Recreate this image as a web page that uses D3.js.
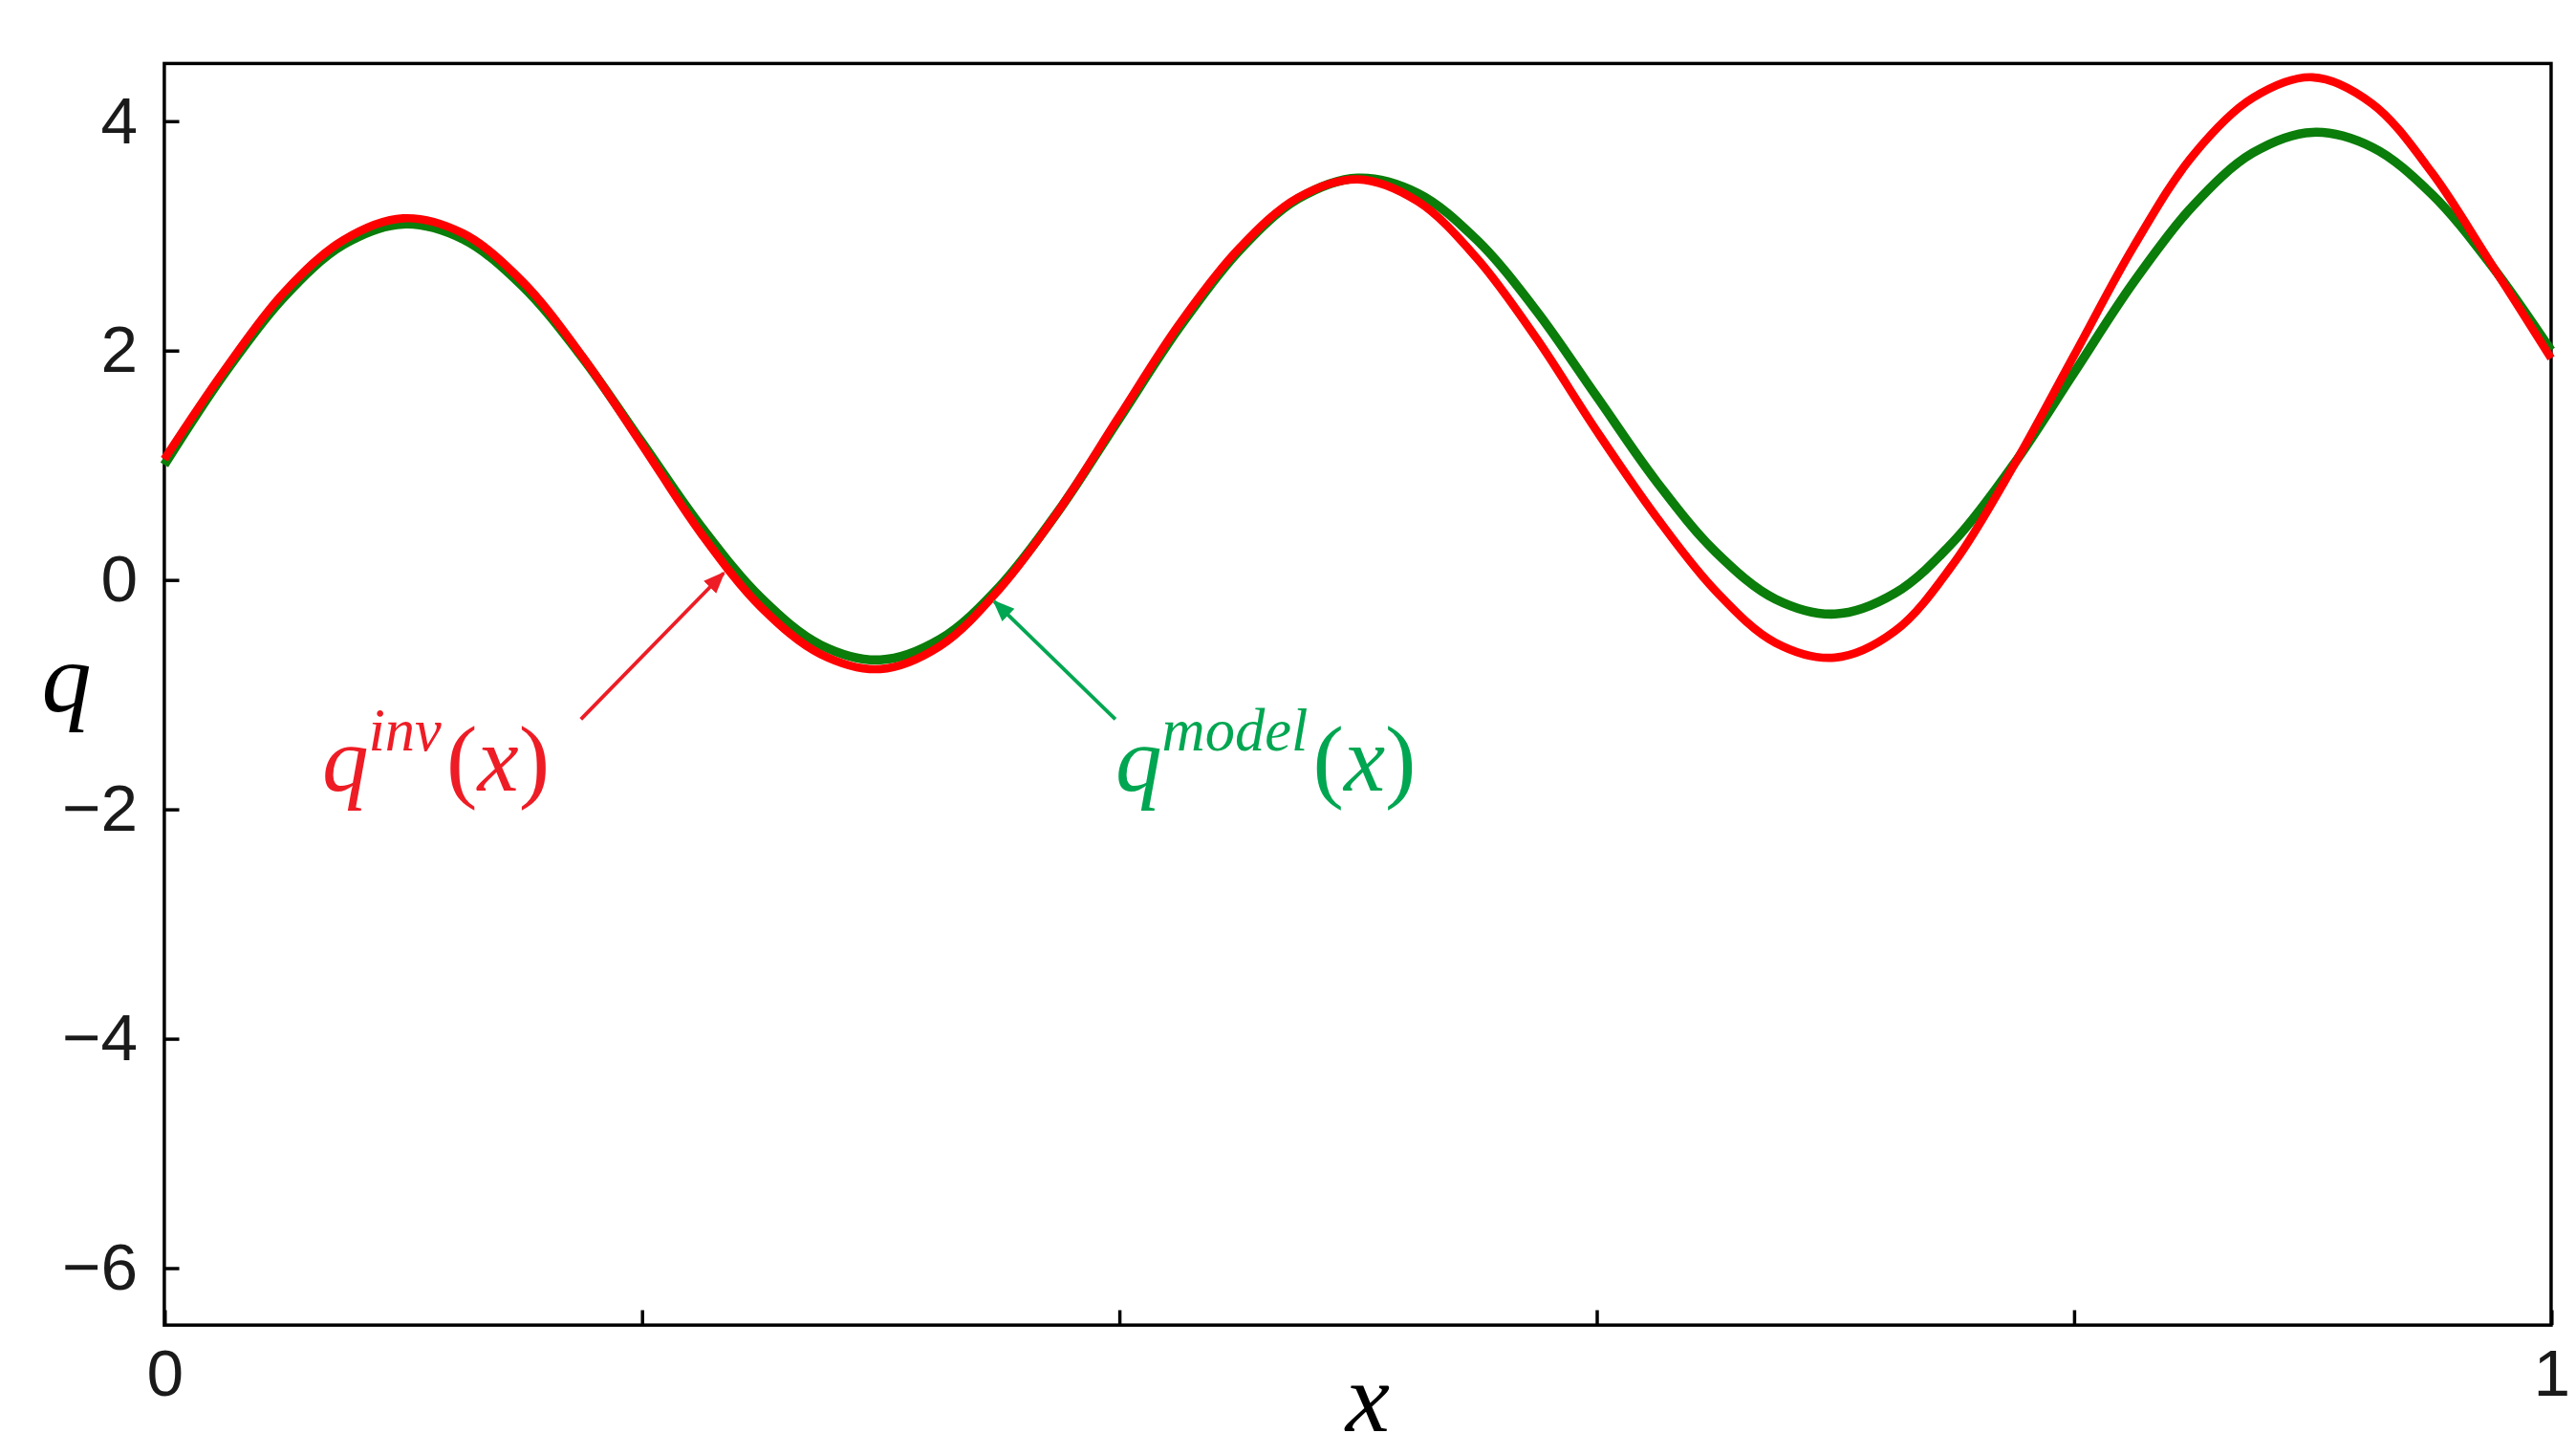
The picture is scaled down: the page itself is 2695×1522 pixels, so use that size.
<!DOCTYPE html>
<html>
<head>
<meta charset="utf-8">
<script src="https://cdn.jsdelivr.net/npm/d3@7"></script>
<style>
  html, body { margin: 0; padding: 0; background: #fff; }
</style>
</head>
<body>
<div id="container"></div>
<script>
// values, x step 0.025
const xs = d3.range(41).map(i => i / 40);
const qModel = [1.00, 1.79, 2.46, 2.92, 3.10, 2.97, 2.56, 1.94, 1.20, 0.46, -0.16, -0.57, -0.70, -0.52, -0.06, 0.61,
  1.40, 2.19, 2.86, 3.32, 3.50, 3.37, 2.96, 2.34, 1.60, 0.86, 0.24, -0.17, -0.30, -0.12, 0.34, 1.01,
  1.80, 2.59, 3.26, 3.72, 3.90, 3.77, 3.36, 2.74, 2.00];
const qInv = [1.05, 1.82, 2.50, 2.96, 3.15, 3.02, 2.60, 1.95, 1.18, 0.40, -0.24, -0.65, -0.78, -0.58, -0.08, 0.61,
  1.42, 2.22, 2.88, 3.33, 3.49, 3.30, 2.80, 2.10, 1.30, 0.55, -0.10, -0.55, -0.68, -0.45, 0.15, 1.00,
  1.95, 2.90, 3.70, 4.20, 4.38, 4.15, 3.55, 2.75, 1.93];
const yTicks = [4, 2, 0, -2, -4, -6];
const xTicks = [0, 0.2, 0.4, 0.6, 0.8, 1];
const xTickLabels = { 0: '0', 1: '1' };

const W = 1552, H = 876;
const m = { left: 99, right: 15, top: 38, bottom: 78 };

const svg = d3.select('#container').append('svg')
  .attr('width', 2695).attr('height', 1522)
  .attr('viewBox', `0 0 ${W} ${H}`);

const x = d3.scaleLinear().domain([0, 1]).range([m.left, W - m.right]);
const y = d3.scaleLinear().domain([-6.5, 4.5]).range([H - m.bottom, m.top]);

const tickFont = '"Liberation Sans", Arial, sans-serif';

// y ticks (inward)
const gy = svg.append('g').attr('transform', `translate(${m.left},0)`)
  .call(d3.axisLeft(y).tickValues(yTicks).tickSize(-9).tickPadding(16)
    .tickFormat(d => d < 0 ? '\u2212' + Math.abs(d) : d));
gy.select('.domain').remove();
gy.selectAll('line').attr('stroke', '#000').attr('stroke-width', 2);
gy.selectAll('text').attr('font-family', tickFont).attr('font-size', 40).attr('fill', '#1a1a1a');

const gx = svg.append('g').attr('transform', `translate(0,${H - m.bottom})`)
  .call(d3.axisBottom(x).tickValues(xTicks).tickSize(-9).tickPadding(14)
    .tickFormat(d => xTickLabels[d] || ''));
gx.select('.domain').remove();
gx.selectAll('line').attr('stroke', '#000').attr('stroke-width', 2);
gx.selectAll('text').attr('font-family', tickFont).attr('font-size', 40).attr('fill', '#1a1a1a');

// frame
svg.append('rect')
  .attr('x', m.left).attr('y', m.top)
  .attr('width', W - m.left - m.right).attr('height', H - m.top - m.bottom)
  .attr('fill', 'none').attr('stroke', '#000').attr('stroke-width', 2);

const line = vals => d3.line()
  .x((d, i) => x(xs[i])).y(d => y(d))
  .curve(d3.curveCatmullRom)(vals);

svg.append('path').attr('d', line(qModel))
  .attr('fill', 'none').attr('stroke', '#0a7d0a').attr('stroke-width', 5.5);
svg.append('path').attr('d', line(qInv))
  .attr('fill', 'none').attr('stroke', '#ff0000').attr('stroke-width', 5);

// arrows
const defs = svg.append('defs');
[['ar', '#ee1c25'], ['ag', '#00a651']].forEach(([id, c]) => {
  defs.append('marker').attr('id', id).attr('viewBox', '0 0 10 10')
    .attr('refX', 9).attr('refY', 5).attr('markerWidth', 6).attr('markerHeight', 6)
    .attr('orient', 'auto')
    .append('path').attr('d', 'M0,1 L10,5 L0,9 Z').attr('fill', c);
});
svg.append('line').attr('x1', 350).attr('y1', 433).attr('x2', 436).attr('y2', 345)
  .attr('stroke', '#ee1c25').attr('stroke-width', 2.2).attr('marker-end', 'url(#ar)');
svg.append('line').attr('x1', 672).attr('y1', 433).attr('x2', 599).attr('y2', 362)
  .attr('stroke', '#00a651').attr('stroke-width', 2.2).attr('marker-end', 'url(#ag)');

const serif = '"Liberation Serif", "DejaVu Serif", serif';
function mathLabel(px, py, sup, color) {
  const t = svg.append('text').attr('x', px).attr('y', py)
    .attr('font-family', serif).attr('fill', color).attr('font-size', 56);
  t.append('tspan').attr('font-style', 'italic').text('q');
  t.append('tspan').attr('font-style', 'italic').attr('font-size', 36).attr('dy', -24).text(sup);
  t.append('tspan').attr('dy', 24).attr('dx', 3).text('(');
  t.append('tspan').attr('font-style', 'italic').text('x');
  t.append('tspan').text(')');
}
mathLabel(194, 476, 'inv', '#ee1c25');
mathLabel(672, 476, 'model', '#00a651');

svg.append('text').attr('x', 824).attr('y', 862).attr('text-anchor', 'middle')
  .attr('font-family', serif).attr('font-style', 'italic').attr('font-size', 60).text('x');
svg.append('text').attr('x', 40).attr('y', 428).attr('text-anchor', 'middle')
  .attr('font-family', serif).attr('font-style', 'italic').attr('font-size', 60).text('q');
</script>
</body>
</html>
